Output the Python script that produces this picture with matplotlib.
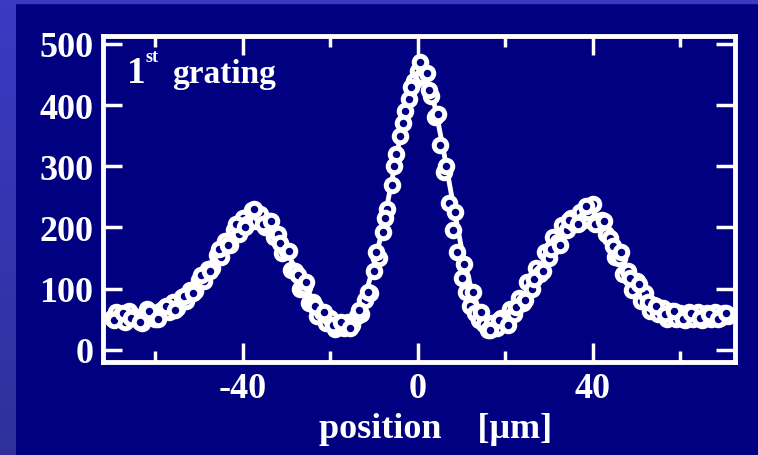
import matplotlib
matplotlib.use("Agg")
import matplotlib.pyplot as plt
import numpy as np
from matplotlib.patches import Rectangle
from matplotlib.ticker import MultipleLocator

plt.rcParams['axes.unicode_minus'] = False

# measured points, scan 1 (position in um, counts)
pos = [-70, -69, -68, -67, -66, -65, -64, -63, -62, -61, -60, -59, -58,
       -57, -56, -55, -54, -53, -52, -51, -50, -49, -48, -47, -46, -45,
       -44, -43, -42, -41, -40, -39, -38, -37, -36, -35, -34, -33, -32,
       -31, -30, -29, -28, -27, -26, -25, -24, -23, -22, -21, -20, -19,
       -18, -17, -16, -15, -14, -13, -12, -11, -10, -9, -8, -7, -6,
       -5, -4, -3, -2, -1, 0, 1, 2, 3, 4, 5, 6, 7,
       8, 9, 10, 11, 12, 13, 14, 15, 16, 17, 18, 19, 20,
       21, 22, 23, 24, 25, 26, 27, 28, 29, 30, 31, 32, 33,
       34, 35, 36, 37, 38, 39, 40, 41, 42, 43, 44, 45, 46,
       47, 48, 49, 50, 51, 52, 53, 54, 55, 56, 57, 58, 59,
       60, 61, 62, 63, 64, 65, 66, 67, 68, 69, 70, 71]
counts = [52, 62, 55, 46, 64, 56, 50, 44, 66, 57, 50, 64, 68,
          62, 78, 68, 86, 80, 98, 96, 114, 112, 132, 134, 155, 152,
          178, 172, 195, 190, 215, 205, 228, 210, 222, 200, 210, 185, 190,
          158, 162, 130, 128, 100, 102, 76, 78, 56, 62, 44, 52, 34,
          40, 36, 46, 40, 56, 58, 82, 92, 128, 150, 192, 230, 270,
          320, 350, 390, 410, 440, 455, 448, 452, 415, 380, 335, 290, 240,
          195, 160, 118, 95, 72, 60, 48, 42, 32, 44, 36, 52, 46,
          66, 58, 84, 76, 110, 100, 134, 124, 160, 150, 184, 176, 204,
          196, 216, 206, 226, 212, 226, 238, 210, 212, 190, 182, 152, 150,
          124, 128, 98, 112, 80, 92, 64, 74, 58, 68, 50, 64, 50,
          60, 48, 62, 50, 62, 48, 60, 50, 62, 52, 60, 56]

# measured points, scan 2
pos2 = [-69.5, -67.5, -65.5, -63.5, -61.5, -59.5, -57.5, -55.5, -53.5,
        -51.5, -49.5, -47.5, -45.5, -43.5, -41.5, -39.5, -37.5, -35.5,
        -33.5, -31.5, -29.5, -27.5, -25.5, -23.5, -21.5, -19.5, -17.5,
        -15.5, -13.5, -11.5, -9.5, -7.5, -5.5, -3.5, -1.5, 0.5, 2.5,
        4.5, 6.5, 8.5, 10.5, 12.5, 14.5, 16.5, 18.5, 20.5, 22.5, 24.5,
        26.5, 28.5, 30.5, 32.5, 34.5, 36.5, 38.5, 40.5, 42.5, 44.5,
        46.5, 48.5, 50.5, 52.5, 54.5, 56.5, 58.5, 60.5, 62.5, 64.5,
        66.5, 68.5, 70.5]
counts2 = [48, 60, 52, 45, 63, 50, 72, 65, 88,
           92, 122, 128, 165, 172, 205, 200, 230, 205,
           210, 175, 162, 122, 110, 72, 62, 40, 45,
           35, 65, 95, 160, 215, 300, 370, 430, 470, 425,
           385, 300, 225, 140, 95, 62, 32, 48, 40, 70, 82,
           115, 128, 165, 172, 212, 205, 235, 205, 210, 170,
           160, 118, 108, 78, 72, 58, 64, 50, 60, 52,
           58, 50, 60]

# fitted curve
fit_x = [-70, -68, -66, -64, -62, -60, -58, -56, -54, -52, -50, -48, -46, -44,
         -42, -40, -38, -36, -34, -32, -30, -28, -26, -24, -22, -20, -18, -16,
         -14, -12, -10, -8, -6, -4, -2, 0, 1, 2, 4, 6, 8, 10, 12, 14, 16, 18,
         20, 22, 24, 26, 28, 30, 32, 34, 36, 38, 40, 42, 44, 46, 48, 50, 52,
         54, 56, 58, 60, 62, 64, 66, 68, 70]
fit_y = [55, 55, 56, 57, 58, 61, 66, 73, 83, 96, 112, 131, 152, 174,
         193, 208, 216, 214, 203, 185, 160, 133, 106, 82, 63, 50, 42, 44,
         58, 90, 140, 200, 275, 350, 410, 443, 447, 440, 395, 320, 240, 165,
         105, 65, 44, 38, 44, 58, 78, 101, 127, 152, 176, 196, 211, 218, 216,
         204, 184, 158, 132, 109, 90, 76, 67, 61, 58, 57, 56, 56, 56, 56]

navy = '#000080'
fig = plt.figure(figsize=(7.58, 4.56), dpi=100, facecolor=navy)

# lighter frame strips on left and top
strip = fig.add_axes([0, 0, 16 / 758, 1])
grad = np.linspace(0, 1, 100).reshape(-1, 1)
strip.imshow(grad, aspect='auto', extent=[0, 1, 0, 1],
             cmap=matplotlib.colors.LinearSegmentedColormap.from_list(
                 'g', ['#30309c', '#3a3ac4']), origin='lower')
strip.axis('off')
fig.patches.append(Rectangle((0, 1 - 4 / 456), 1, 4 / 456, transform=fig.transFigure,
                             color='#3a3ac4', zorder=0))

ax = fig.add_axes([103 / 758, 1 - 363 / 456, 632 / 758, 326 / 456])
ax.set_facecolor(navy)

ax.plot(fit_x, fit_y, color='white', lw=3.5, zorder=2)
mk = dict(ls='none', marker='o', ms=9, mfc=navy, mec='white', mew=3.6, zorder=3)
ax.plot(pos, counts, **mk)
ax.plot(pos2, counts2, **mk)

ax.set_xlim(-72, 72.5)
ax.set_ylim(-20, 513)
ax.xaxis.set_major_locator(MultipleLocator(40))
ax.xaxis.set_minor_locator(MultipleLocator(20))
ax.set_yticks([0, 100, 200, 300, 400, 500])

for s in ax.spines.values():
    s.set_color('white')
    s.set_linewidth(3.5)

font = dict(family='Liberation Serif', weight='bold')
ax.tick_params(which='both', direction='in', top=True, right=True,
               colors='white', width=2.5)
ax.tick_params(which='major', length=14, pad=7, labelsize=26)
ax.tick_params(which='minor', length=8)
for lab in ax.get_xticklabels() + ax.get_yticklabels():
    lab.set_fontfamily('Liberation Serif')
    lab.set_fontweight('bold')

fig.text(436 / 758, 1 - 438 / 456, 'position    [\u03bcm]', color='white',
         fontsize=26, ha='center', va='baseline', **font)

ax.text(127 / 758, 1 - 83 / 456, '1', color='white', fontsize=27,
        transform=fig.transFigure, va='baseline', **font)
ax.text(145 / 758, 1 - 62 / 456, 'st', color='white', fontsize=13,
        transform=fig.transFigure, va='baseline', **font)
ax.text(172 / 758, 1 - 83 / 456, 'grating', color='white', fontsize=24,
        transform=fig.transFigure, va='baseline', **font)

fig.savefig('out.png', dpi=100, facecolor=navy)
